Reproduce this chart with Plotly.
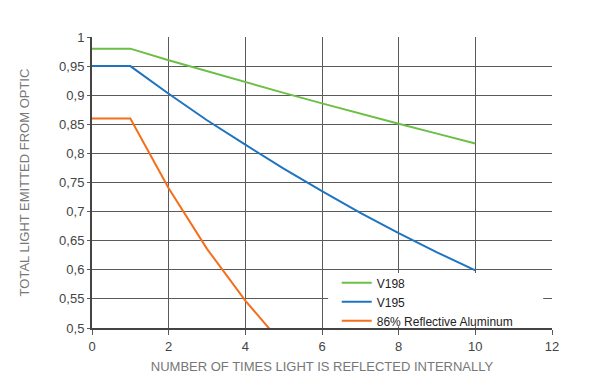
import plotly.graph_objects as go

reflections = [0, 1, 2, 3, 4, 5, 6, 7, 8, 9, 10]
v198 = [0.98, 0.98, 0.960, 0.941, 0.922, 0.904, 0.886, 0.868, 0.851, 0.834, 0.817]
v195 = [0.95, 0.95, 0.9025, 0.857, 0.815, 0.774, 0.735, 0.698, 0.663, 0.630, 0.599]
alu_x = [0, 1, 2, 3, 4, 5]
alu = [0.86, 0.86, 0.740, 0.636, 0.547, 0.470]

y_ticks = [0.5, 0.55, 0.6, 0.65, 0.7, 0.75, 0.8, 0.85, 0.9, 0.95, 1]
y_labels = ["0,5", "0,55", "0,6", "0,65", "0,7", "0,75", "0,8", "0,85", "0,9", "0,95", "1"]
x_ticks = [0, 2, 4, 6, 8, 10, 12]

fig = go.Figure()
fig.add_trace(go.Scatter(x=reflections, y=v198, mode="lines", name="V198",
                         line=dict(color="#6cbf45", width=2)))
fig.add_trace(go.Scatter(x=reflections, y=v195, mode="lines", name="V195",
                         line=dict(color="#1f74c2", width=2)))
fig.add_trace(go.Scatter(x=alu_x, y=alu, mode="lines", name="86% Reflective Aluminum",
                         line=dict(color="#f46f1c", width=2)))

# white panel behind the legend hiding the grid
fig.add_shape(type="rect", xref="x", yref="y", x0=6.16, x1=11.77, y0=0.503, y1=0.5945,
              fillcolor="white", line=dict(width=0), layer="above")

fig.update_layout(
    width=600, height=377,
    margin=dict(l=92, r=48, t=37, b=49, autoexpand=False),
    paper_bgcolor="white", plot_bgcolor="white",
    font=dict(family="Helvetica Neue, Liberation Sans, Arial, sans-serif", color="#444444", size=13),
    showlegend=True,
    legend=dict(x=0.532, y=0.205, xanchor="left", yanchor="top", bgcolor="rgba(0,0,0,0)",
                font=dict(size=12, color="#222222"), itemwidth=30,
                tracegroupgap=0),
    xaxis=dict(range=[0, 12], tickvals=x_ticks, showgrid=True, gridcolor="#5a5a5a", gridwidth=1,
               zeroline=False, showline=True, linecolor="#444444", linewidth=2,
               ticks="outside", ticklen=5, tickcolor="#5a5a5a", automargin=False,
               tickfont=dict(size=13, color="#444444"),
               title=dict(text="NUMBER OF TIMES LIGHT IS REFLECTED INTERNALLY",
                          font=dict(size=13, color="#777777"), standoff=9)),
    yaxis=dict(range=[0.5, 1], tickvals=y_ticks, ticktext=y_labels, showgrid=True,
               gridcolor="#5a5a5a", gridwidth=1, zeroline=False, showline=True,
               linecolor="#444444", linewidth=2, ticks="outside", ticklen=3,
               tickcolor="#5a5a5a", tickfont=dict(size=13, color="#444444"), automargin=False,
               title=dict(text="TOTAL LIGHT EMITTED FROM OPTIC",
                          font=dict(size=13, color="#777777"), standoff=27)),
)

fig.write_html("out.html", config={"displayModeBar": False},
               post_script="document.body.style.margin='0';")
